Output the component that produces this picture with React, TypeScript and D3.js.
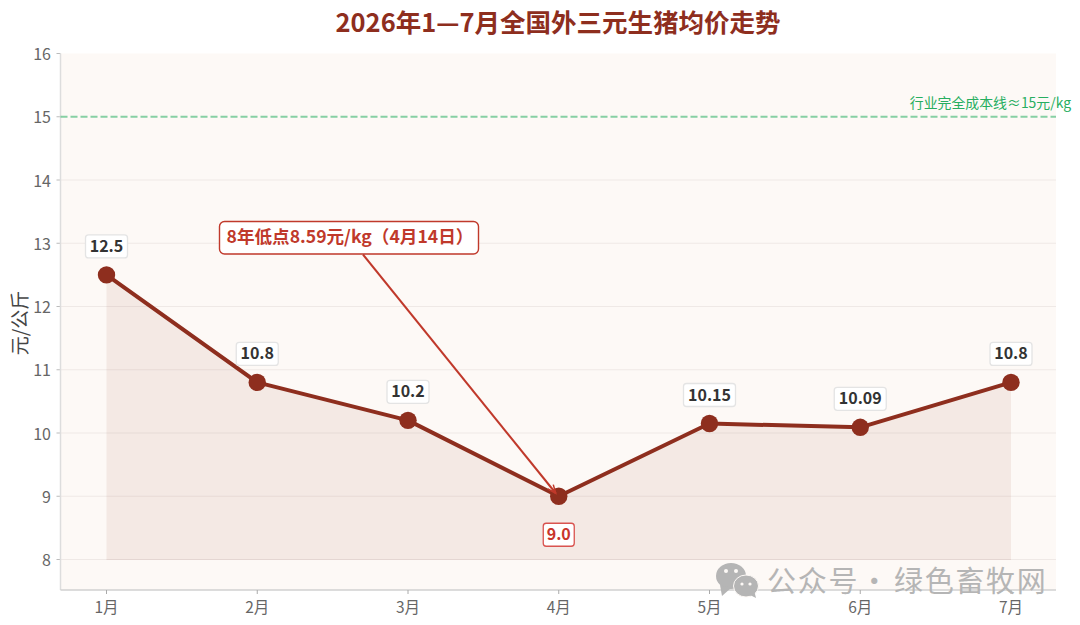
import React from "react";
import * as d3 from "d3";

const months = ["1月", "2月", "3月", "4月", "5月", "6月", "7月"];
const prices = [12.5, 10.8, 10.2, 9.0, 10.15, 10.09, 10.8];
const priceLabels = ["12.5", "10.8", "10.2", "9.0", "10.15", "10.09", "10.8"];
const yTicks = [8, 9, 10, 11, 12, 13, 14, 15, 16];
const costLine = 15;
const areaBase = 8;
const lowIndex = 3;
const titleText = "2026年1—7月全国外三元生猪均价走势";
const yAxisTitle = "元/公斤";
const costText = "行业完全成本线≈15元/kg";
const annotationText = "8年低点8.59元/kg（4月14日）";
const watermarkParts = ["公众号", "·", "绿色畜牧网"];

const FONT = '"Noto Sans CJK SC", "Noto Sans", sans-serif';
const W = 1080, H = 625;
const plot = { l: 60.5, r: 1056, t: 53.5, b: 590 };
const BROWN = "#8e2e1e";
const RED = "#c0392b";
const BG = "#fdf9f6";

export default function App() {
  const x = d3.scaleLinear().domain([0, 6]).range([106.5, 1011]);
  const y = d3.scaleLinear().domain([8, 16]).range([559.5, 53.5]);
  const idx = months.map((_, i) => i);
  const lineGen = d3.line<number>().x((i) => x(i)).y((i) => y(prices[i]));
  const areaGen = d3.area<number>().x((i) => x(i)).y0(y(areaBase)).y1((i) => y(prices[i]));

  const labelW = (s: string) => (s.length >= 5 ? 52 : s.length === 4 ? 42 : 31);

  const ax0 = 363, ay0 = 254.5;
  const ax1 = x(lowIndex) - 3, ay1 = y(prices[lowIndex]) - 3;
  const ang = Math.atan2(ay1 - ay0, ax1 - ax0);
  const head = (a: number) => `${ax1 - 9 * Math.cos(ang + a)},${ay1 - 9 * Math.sin(ang + a)}`;

  return (
    <svg width={W} height={H} viewBox={`0 0 ${W} ${H}`}
      style={{ position: "absolute", left: 0, top: 0, background: "#fff", fontFamily: FONT }}>
      <text x={558} y={31.5} textAnchor="middle" fontSize={25.5} fontWeight={700} fill={BROWN}>{titleText}</text>

      <rect x={plot.l} y={plot.t} width={plot.r - plot.l} height={plot.b - plot.t} fill={BG} />

      {yTicks.map((t) => (
        <g key={t}>
          {t !== 15 && t !== 16 && (
            <line x1={plot.l} x2={plot.r} y1={y(t)} y2={y(t)} stroke="#efe9e6" strokeWidth={1} />
          )}
          <line x1={plot.l - 4} x2={plot.l} y1={y(t)} y2={y(t)} stroke="#bbb" strokeWidth={1} />
          <text x={51} y={y(t) + 6.5} textAnchor="end" fontSize={16} fill="#666">{t}</text>
        </g>
      ))}

      <line x1={plot.l} x2={plot.l} y1={plot.t} y2={plot.b} stroke="#ddd" strokeWidth={1.5} />
      <line x1={plot.l} x2={plot.r} y1={plot.b} y2={plot.b} stroke="#d0d0d0" strokeWidth={1.5} />

      {idx.map((i) => (
        <g key={i}>
          <line x1={x(i)} x2={x(i)} y1={plot.b} y2={plot.b + 4} stroke="#aaa" strokeWidth={1} />
          <text x={x(i)} y={613} textAnchor="middle" fontSize={15.5} fill="#666">{months[i]}</text>
        </g>
      ))}

      <text transform="translate(27,323) rotate(-90)" textAnchor="middle" fontSize={19} fill="#444">{yAxisTitle}</text>

      <path d={areaGen(idx) ?? ""} fill={BROWN} fillOpacity={0.08} />
      <line x1={x(0)} x2={x(6)} y1={y(areaBase)} y2={y(areaBase)} stroke={BROWN} strokeOpacity={0.06} />

      <line x1={plot.l} x2={plot.r} y1={y(costLine)} y2={y(costLine)}
        stroke="#27ae60" strokeOpacity={0.55} strokeWidth={2} strokeDasharray="7 3" />
      <text x={1071} y={108} textAnchor="end" fontSize={13.9} fill="#27ae60">{costText}</text>

      <path d={lineGen(idx) ?? ""} fill="none" stroke={BROWN} strokeWidth={4} strokeLinejoin="round" />
      {idx.map((i) => <circle key={i} cx={x(i)} cy={y(prices[i])} r={8.7} fill={BROWN} />)}

      <line x1={ax0} y1={ay0} x2={ax1} y2={ay1} stroke={RED} strokeWidth={2} />
      <polyline points={`${head(0.4)} ${ax1},${ay1} ${head(-0.4)}`} fill="none" stroke={RED} strokeWidth={1.5} />

      <rect x={219.5} y={221.5} width={259} height={32.5} rx={5} fill="#fff" stroke={RED} strokeWidth={1.4} />
      <text x={226.5} y={242.5} fontSize={17.6} fontWeight={700} fill={RED}>{annotationText}</text>

      {idx.map((i) => {
        const low = i === lowIndex;
        const w = labelW(priceLabels[i]);
        const cy = low ? y(prices[i]) + 38.5 : y(prices[i]) - 28.5;
        return (
          <g key={i}>
            <rect x={x(i) - w / 2} y={cy - 11.5} width={w} height={23} rx={3} fill="#fff"
              stroke={low ? "#d9534f" : "#e4e4e4"} strokeWidth={1.3} />
            <text x={x(i)} y={cy + 5.5} textAnchor="middle" fontSize={16} fontWeight={700}
              fill={low ? "#c9352b" : "#333"}>{priceLabels[i]}</text>
          </g>
        );
      })}

      <g fill="#b5b5b5">
        <ellipse cx={731} cy={576} rx={15} ry={13} />
        <path d="M720 585 L722 596 L731 588 Z" />
        <circle cx={726} cy={571} r={2} fill={BG} />
        <circle cx={736} cy={571} r={2} fill={BG} />
        <ellipse cx={746} cy={586} rx={12.5} ry={11} stroke={BG} strokeWidth={1} />
        <path d="M750 595 L756 598 L754 590 Z" />
        <circle cx={742} cy={584} r={1.6} fill={BG} />
        <circle cx={750} cy={584} r={1.6} fill={BG} />
      </g>
      <g fontSize={29} fill="#b5b5b5" style={{ letterSpacing: "1.7px" }}>
        <text x={767} y={592}>{watermarkParts[0]}</text>
        <text x={875} y={592} textAnchor="middle">{watermarkParts[1]}</text>
        <text x={894} y={592}>{watermarkParts[2]}</text>
      </g>
    </svg>
  );
}
